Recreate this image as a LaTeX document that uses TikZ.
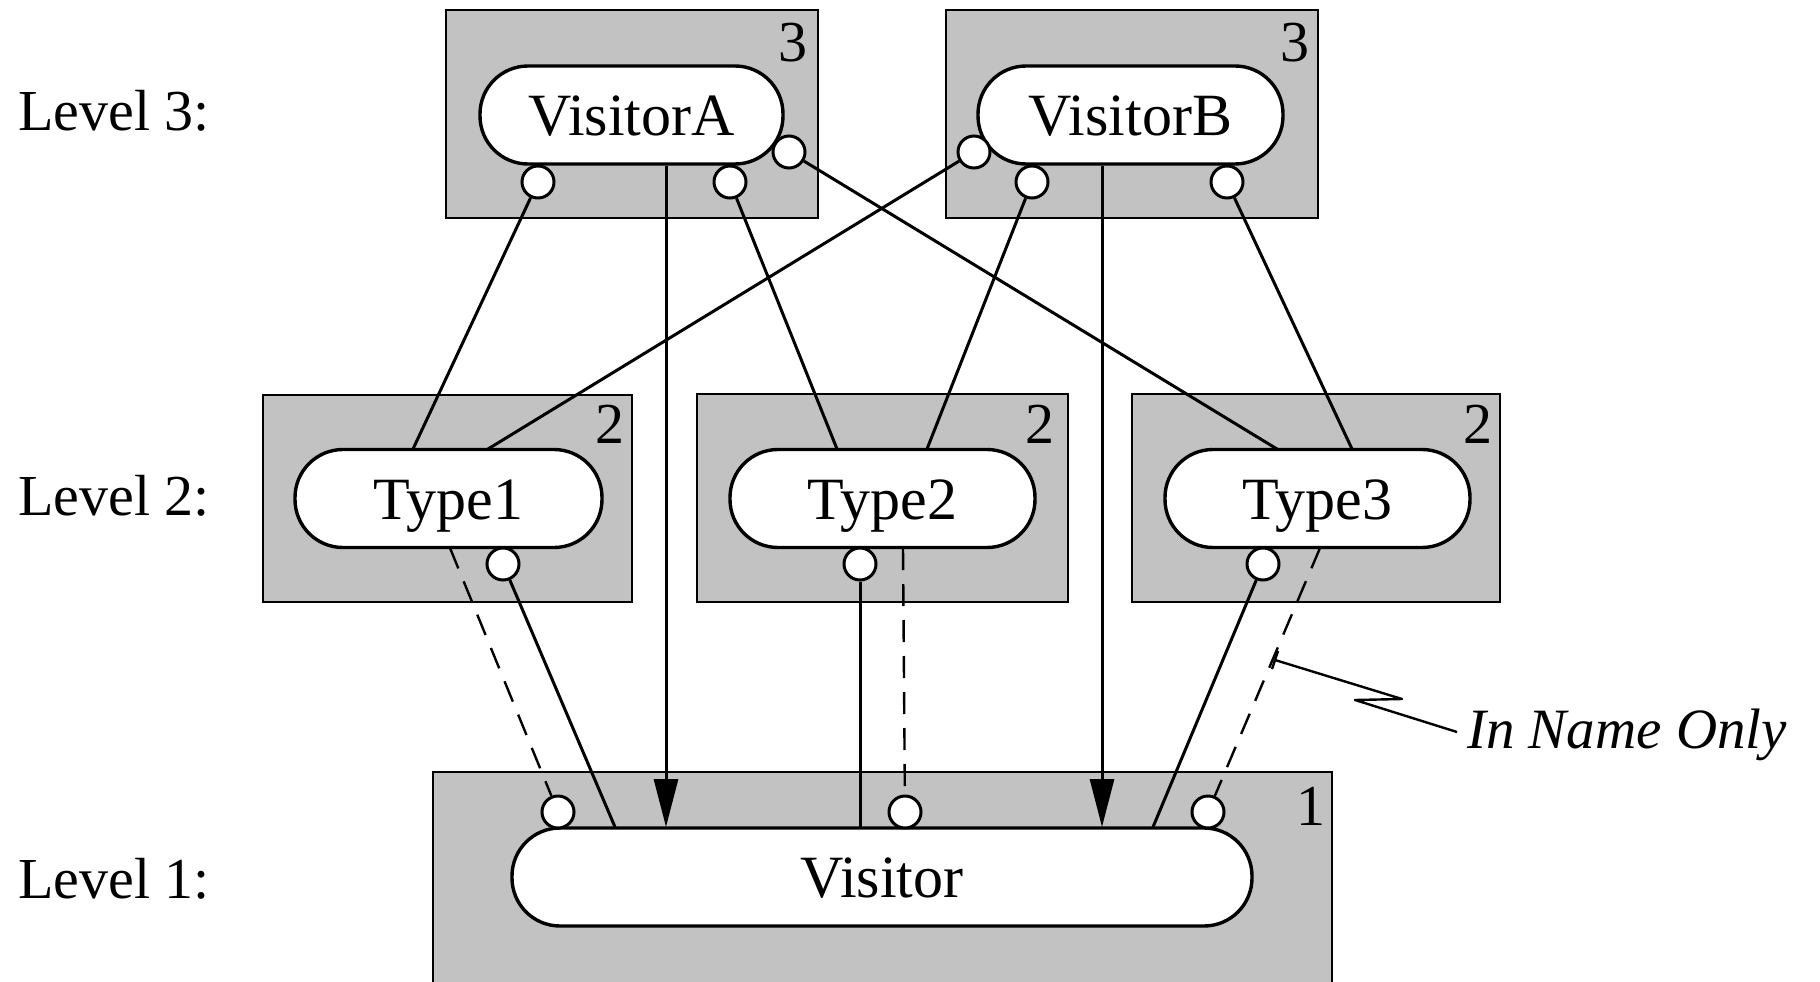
\documentclass[tikz,border=0pt]{standalone}
\usepackage{fontspec}
\setmainfont{Liberation Serif}
\usetikzlibrary{arrows.meta}
\begin{document}
\begin{tikzpicture}[x=1pt,y=-1pt,
  levelbox/.style={draw, line width=2pt, fill=black!24, inner sep=0pt, minimum height=208pt},
  pill/.style={draw, line width=3.4pt, fill=white, rounded corners=48pt, minimum height=98pt, inner sep=0pt,
    font=\fontsize{60}{60}\selectfont, text height=41pt, text depth=0pt},
  port/.style={circle, draw, line width=3pt, fill=white, minimum size=32pt, inner sep=0pt},
  link/.style={line width=3pt},
  nameonly/.style={line width=2.4pt, dash pattern=on 22pt off 14pt},
  uses/.style={line width=3pt, -{Triangle[length=48pt,width=24pt]}},
  callout/.style={line width=2.4pt},
  corner/.style={font=\fontsize{58}{58}\selectfont, anchor=base, inner sep=0pt},
  lvl/.style={font=\fontsize{58}{58}\selectfont, anchor=base west, inner sep=0pt}]
\useasboundingbox (0,0) rectangle (1820,982);
\clip (0,0) rectangle (1820,982);

% level labels
\node[lvl] (l3) at (18,130) {Level 3:};
\node[lvl] (l2) at (18,515) {Level 2:};
\node[lvl] (l1) at (18,898) {Level 1:};

% shaded boxes
\node[levelbox, minimum width=372pt] (bA) at (632,114) {};
\node[levelbox, minimum width=372pt] (bB) at (1132,114) {};
\node[levelbox, minimum width=369pt, minimum height=207pt] (bT1) at (447.5,498.5) {};
\node[levelbox, minimum width=371pt] (bT2) at (882.5,498) {};
\node[levelbox, minimum width=368pt] (bT3) at (1316,498) {};
\node[levelbox, minimum width=899pt, minimum height=218pt] (bV) at (882.5,881) {};

% level numbers
\node[corner] (nA) at (793,62) {3};
\node[corner] (nB) at (1295,62) {3};
\node[corner] (n1) at (610,443) {2};
\node[corner] (n2) at (1040,443) {2};
\node[corner] (n3) at (1478,443) {2};
\node[corner] (n0) at (1311,825) {1};

% pills
\node[pill, minimum width=303pt] (pA) at (631.5,115) {VisitorA};
\node[pill, minimum width=305pt] (pB) at (1130.5,115) {VisitorB};
\node[pill, minimum width=307pt] (t1) at (448.5,498.5) {Type1};
\node[pill, minimum width=305pt] (t2) at (882.5,498.5) {Type2};
\node[pill, minimum width=305pt] (t3) at (1317.5,498.5) {Type3};
\node[pill, minimum width=740pt] (v) at (882,877) {Visitor};

% attachment points
\coordinate (t1a) at (413,449);
\coordinate (t1b) at (488,449);
\coordinate (t2a) at (837,449);
\coordinate (t2b) at (927,449);
\coordinate (t3a) at (1277,449);
\coordinate (t3b) at (1352,449);
\coordinate (t1d) at (450,548);
\coordinate (t2d) at (903,548);
\coordinate (t3d) at (1320,548);
\coordinate (pAs) at (666,166);
\coordinate (pBs) at (1102,166);
\coordinate (vA) at (666,827);
\coordinate (vB) at (1102,827);
\coordinate (v1) at (615,827);
\coordinate (v2) at (860,827);
\coordinate (v3) at (1153,827);

% ports
\node[port] (a1) at (538,182) {};
\node[port] (a2) at (730,182) {};
\node[port] (a3) at (789,152) {};
\node[port] (b1) at (974,152) {};
\node[port] (b2) at (1032,182) {};
\node[port] (b3) at (1227,182) {};
\node[port] (s1) at (503,564) {};
\node[port] (s2) at (860,564) {};
\node[port] (s3) at (1263,564) {};
\node[port] (d1) at (558,812) {};
\node[port] (d2) at (905,812) {};
\node[port] (d3) at (1208,812) {};

% level 3 -> level 2
\draw[link] (a1) -- (t1a);
\draw[link] (a2) -- (t2a);
\draw[link] (a3) -- (t3a);
\draw[link] (b1) -- (t1b);
\draw[link] (b2) -- (t2b);
\draw[link] (b3) -- (t3b);

% level 3 -> level 1
\draw[uses] (pAs) -- (vA);
\draw[uses] (pBs) -- (vB);

% level 2 -> level 1
\draw[link] (s1) -- (v1);
\draw[link] (s2) -- (v2);
\draw[link] (s3) -- (v3);
\draw[nameonly] (t1d) -- (d1);
\draw[nameonly] (t2d) -- (d2);
\draw[nameonly] (t3d) -- (d3);

% callout
\coordinate (c0) at (1275,660);
\coordinate (c0a) at (1278,651);
\coordinate (c0b) at (1272,669);
\coordinate (c1) at (1402,699);
\coordinate (c2) at (1355,700);
\coordinate (c3) at (1457,732);
\draw[callout] (c0a) -- (c0b);
\draw[callout, line join=round] (c0) -- (c1) -- (c2) -- (c3);
\node[font=\fontsize{57}{57}\selectfont\itshape, anchor=base west, inner sep=0pt] (lab) at (1467,748) {In Name Only};
\end{tikzpicture}
\end{document}
